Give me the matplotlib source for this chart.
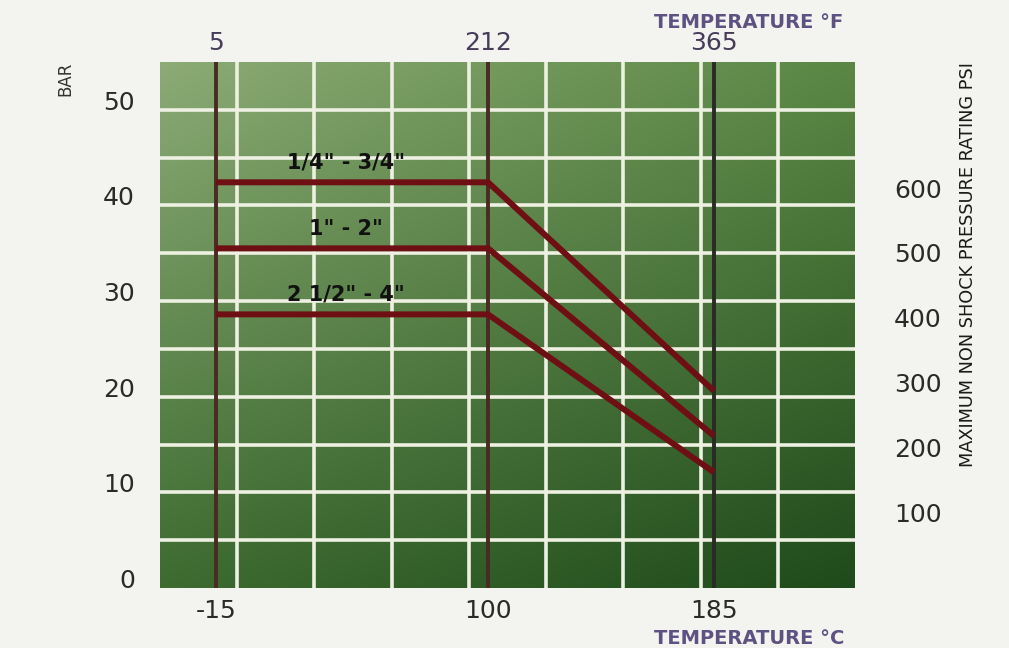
import numpy as np
import matplotlib
matplotlib.use("Agg")
import matplotlib.pyplot as plt
from matplotlib.colors import to_rgb

# ---------------- data ----------------
temps_c = [-15, 100, 185]
temps_f = [5, 212, 365]
series_labels = ['1/4" - 3/4"', '1" - 2"', '2 1/2" - 4"']
rating_small = [41.4, 41.4, 19.6]   # bar
rating_mid = [34.5, 34.5, 14.9]
rating_large = [27.6, 27.6, 11.1]
bar_ticks = [0, 10, 20, 30, 40, 50]
psi_ticks = [100, 200, 300, 400, 500, 600]
label_temp_c = 40

# -------------- layout helpers --------------
# the printed chart's temperature axis is not linear: piecewise mapping
kp = [0.0806, 0.472, 0.797]
s1 = (kp[1] - kp[0]) / (temps_c[1] - temps_c[0])
s2 = (kp[2] - kp[1]) / (temps_c[2] - temps_c[1])


def fwd(c):
    c = np.asarray(c, float)
    return np.where(c < temps_c[1], kp[0] + (c - temps_c[0]) * s1,
                    kp[1] + (c - temps_c[1]) * s2)


def inv(p):
    p = np.asarray(p, float)
    return np.where(p < kp[1], temps_c[0] + (p - kp[0]) / s1,
                    temps_c[1] + (p - kp[1]) / s2)


W, H = 1009, 648
fig = plt.figure(figsize=(W / 100, H / 100), dpi=100, facecolor='#f3f3ef')
L, R, T, B = 160, 855, 62, 588
ax = fig.add_axes([L / W, 1 - B / H, (R - L) / W, (B - T) / H])
ax.set_facecolor('#4c7a3a')

ax.set_xscale('function', functions=(fwd, inv))
ax.set_xlim(float(inv(0.0)), float(inv(1.0)))
ax.set_ylim((578.5 - B) / 9.57, (578.5 - T) / 9.57)

# gradient background
nx, ny = 200, 120
xs = np.linspace(0, 1, nx)
ys = np.linspace(0, 1, ny)  # 0 = top
X, Y = np.meshgrid(xs, ys)
tl, tr = np.array(to_rgb('#8cab76')), np.array(to_rgb('#5a8744'))
bl, br = np.array(to_rgb('#3d6b30')), np.array(to_rgb('#1f4a1b'))
img = ((1 - X)[..., None] * (1 - Y)[..., None] * tl + X[..., None] * (1 - Y)[..., None] * tr
       + (1 - X)[..., None] * Y[..., None] * bl + X[..., None] * Y[..., None] * br)
ax.imshow(img, extent=[0, 1, 0, 1], transform=ax.transAxes, aspect='auto',
          interpolation='bilinear', zorder=0)

# white grid
for k in range(1, 11):
    ax.plot([0, 1], [k / 11, k / 11], transform=ax.transAxes, color='#eef0e2',
            lw=2.6, zorder=1, solid_capstyle='butt')
for k in range(1, 9):
    ax.plot([k / 9, k / 9], [0, 1], transform=ax.transAxes, color='#eef0e2',
            lw=2.6, zorder=1, solid_capstyle='butt')

# dark temperature lines
for c, col in zip(temps_c, ['#4a2a22', '#4a2a22', '#2a2a26']):
    ax.axvline(c, color=col, lw=2.8, zorder=2)

# rating curves
red = '#6e0f14'
for vals, lab in zip([rating_small, rating_mid, rating_large], series_labels):
    ax.plot(temps_c, vals, color=red, lw=4.3, zorder=3, solid_capstyle='butt',
            solid_joinstyle='miter')
    ax.annotate(lab, xy=(label_temp_c, vals[0]), xytext=(0, 14), textcoords='offset points',
                ha='center', va='center', fontsize=15, fontweight='bold', color='#111111',
                family='DejaVu Sans', zorder=4)

for s in ax.spines.values():
    s.set_visible(False)

num_font = dict(family='DejaVu Sans', fontsize=18)

ax.set_xticks(temps_c)
ax.set_xticklabels([str(t) for t in temps_c], color='#2a2a2a', **num_font)
ax.set_yticks(bar_ticks)
ax.set_yticklabels([str(t) for t in bar_ticks], color='#2a2a2a', **num_font)
ax.tick_params(axis='both', length=0)
ax.tick_params(axis='x', pad=8)
ax.tick_params(axis='y', pad=18)
ax.minorticks_off()

# top axis in °F
axt = ax.twiny()
axt.set_xscale('function', functions=(fwd, inv))
axt.set_xlim(ax.get_xlim())
axt.set_xticks(temps_c)
axt.set_xticklabels([str(t) for t in temps_f], color='#463c5a', **num_font)
axt.tick_params(axis='x', length=0, pad=5)
axt.minorticks_off()
for s in axt.spines.values():
    s.set_visible(False)

# right axis in psi
axr = ax.twinx()
axr.set_ylim((576.9 - B) / 0.648, (576.9 - T) / 0.648)
axr.set_yticks(psi_ticks)
axr.set_yticklabels([str(t) for t in psi_ticks], color='#2a2a2a', **num_font)
axr.tick_params(axis='y', length=0, pad=28)
for s in axr.spines.values():
    s.set_visible(False)

fig.text(65 / W, 1 - 79 / H, 'BAR', rotation=90, ha='center', va='center',
         fontsize=12, color='#333333', family='DejaVu Sans')
fig.text(968 / W, 1 - 62 / H, 'MAXIMUM NON SHOCK PRESSURE RATING PSI', rotation=90,
         ha='center', va='top', fontsize=12.8, color='#1a1a1a', family='DejaVu Sans')
fig.text(749 / W, 1 - 22 / H, 'TEMPERATURE °F', ha='center', va='center',
         fontsize=14, fontweight='bold', color='#5e5282', family='DejaVu Sans')
fig.text(749 / W, 1 - 638 / H, 'TEMPERATURE °C', ha='center', va='center',
         fontsize=14, fontweight='bold', color='#5e5282', family='DejaVu Sans')

fig.savefig('out.png', dpi=100, facecolor=fig.get_facecolor())
